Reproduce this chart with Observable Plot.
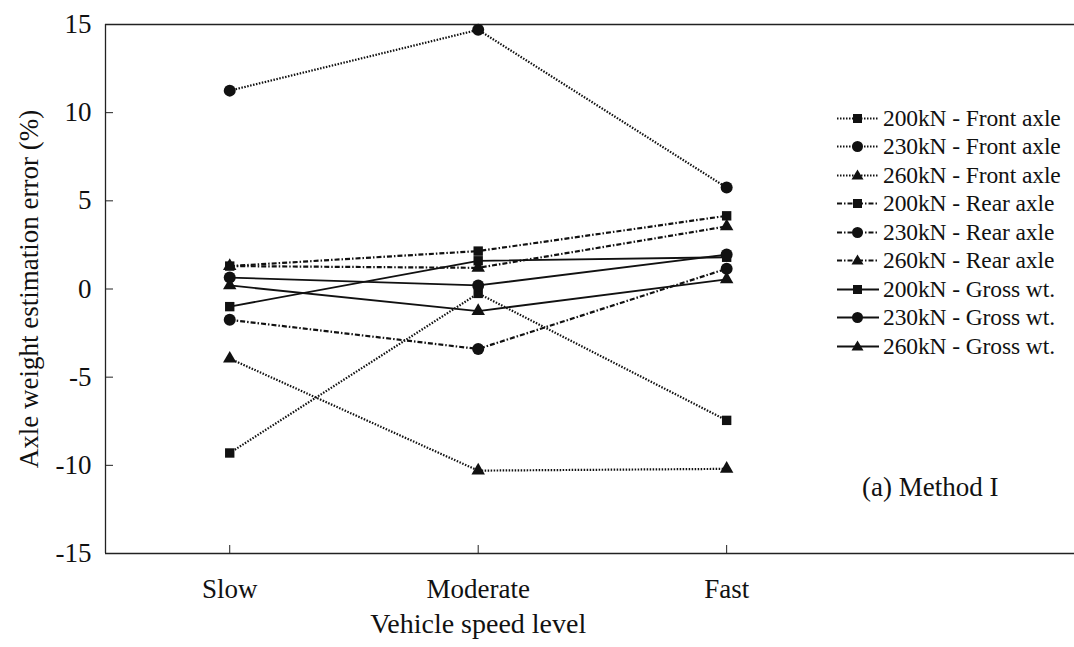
<!DOCTYPE html>
<html>
<head>
<meta charset="utf-8">
<script src="https://cdn.jsdelivr.net/npm/d3@7"></script>
<script src="https://cdn.jsdelivr.net/npm/@observablehq/plot@0.6"></script>
<style>
  html, body { margin: 0; padding: 0; background: #fff; }
  #wrap { position: relative; width: 1074px; height: 647px; font-family: "Liberation Serif", "Times New Roman", serif; }
  #legend { position: absolute; left: 836px; top: 104px; }
  .lrow { display: flex; align-items: center; height: 28.5px; }
  .lrow span { font-size: 23.5px; color: #111; margin-left: 3px; white-space: nowrap; letter-spacing: -0.1px; }
</style>
</head>
<body>
<div id="wrap"><div id="chart"></div><div id="legend"></div></div>
<script>
// ---- data ----
const speeds = ["Slow", "Moderate", "Fast"];
const yTicks = [-15, -10, -5, 0, 5, 10, 15];

const seriesNames = [
  "200kN - Front axle", "230kN - Front axle", "260kN - Front axle",
  "200kN - Rear axle",  "230kN - Rear axle",  "260kN - Rear axle",
  "200kN - Gross wt.",  "230kN - Gross wt.",  "260kN - Gross wt."
];
const front200 = [-9.3, -0.25, -7.45];
const front230 = [11.25, 14.7, 5.75];
const front260 = [-3.95, -10.3, -10.2];
const rear200  = [1.3, 2.15, 4.15];
const rear230  = [-1.75, -3.4, 1.15];
const rear260  = [1.3, 1.2, 3.55];
const gross200 = [-1.0, 1.6, 1.8];
const gross230 = [0.65, 0.2, 1.95];
const gross260 = [0.2, -1.25, 0.55];

const seriesValues = [front200, front230, front260, rear200, rear230, rear260, gross200, gross230, gross260];
const seriesSymbols = ["square", "circle", "triangle", "square", "circle", "triangle", "square", "circle", "triangle"];
const seriesDash = ["1.5,1.5", "1.5,1.5", "1.5,1.5", "5,2,1.5,2", "5,2,1.5,2", "5,2,1.5,2", null, null, null];
const symbolR = {square: 5.3, circle: 6, triangle: 5};

const rows = seriesNames.map((name, s) =>
  seriesValues[s].map((v, i) => ({series: name, s, xi: i + 1, v}))
);

const marks = [];
rows.forEach((data, s) => {
  marks.push(Plot.line(data, {
    x: "xi", y: "v", stroke: "#111",
    strokeWidth: seriesDash[s] ? 2.2 : 1.8,
    strokeLinecap: "butt",
    strokeDasharray: seriesDash[s] || undefined
  }));
});
rows.forEach((data, s) => {
  marks.push(Plot.dot(data, {
    x: "xi", y: "v", symbol: () => seriesSymbols[s], r: symbolR[seriesSymbols[s]],
    fill: "#111", stroke: "none"
  }));
});

const fontFamily = '"Liberation Serif", "Times New Roman", serif';

const chart = Plot.plot({
  width: 1074,
  height: 647,
  marginLeft: 105,
  marginRight: 0,
  marginTop: 24,
  marginBottom: 94,
  style: {fontFamily, fontSize: "28px", color: "#111", background: "transparent"},
  x: {domain: [0.5, 4.4], type: "linear"},
  y: {domain: [-15, 15]},
  symbol: {type: "identity"},
  marks: [
    Plot.ruleY([yTicks[0], yTicks[yTicks.length - 1]], {stroke: "#222", strokeWidth: 1.3}),
    Plot.ruleX([0.5], {stroke: "#222", strokeWidth: 1.3}),
    Plot.axisY(yTicks, {anchor: "left", tickSize: -8, tickPadding: 22, tickFormat: d => String(d),
      label: "Axle weight estimation error (%)",
      labelAnchor: "center", labelOffset: 87, labelArrow: "none", fontSize: 27, stroke: "#222"}),
    Plot.axisX([1, 2, 3], {anchor: "bottom", tickSize: -8, tickPadding: 33, tickFormat: d => speeds[d - 1],
      label: null, fontSize: 27, stroke: "#222"}),
    Plot.text(["Vehicle speed level"], {x: [2], frameAnchor: "bottom", dy: 79, text: d => d, fontSize: 28, fill: "#111"}),
    Plot.text(["(a) Method I"], {frameAnchor: "bottom-right", dx: -76, dy: -58, text: d => d, fontSize: 27, textAnchor: "end", fill: "#111"}),
    ...marks
  ]
});
document.getElementById("chart").appendChild(chart);

// ---- legend ----
const legend = document.getElementById("legend");
seriesNames.forEach((name, s) => {
  const row = document.createElement("div");
  row.className = "lrow";
  const sym = seriesSymbols[s];
  let shape;
  if (sym === "square") shape = '<rect x="17" y="6" width="9" height="9" fill="#111"/>';
  else if (sym === "circle") shape = '<circle cx="21.5" cy="10.5" r="5.5" fill="#111"/>';
  else shape = '<path d="M21.5,4.5 L27.5,14.5 L15.5,14.5 Z" fill="#111"/>';
  const dash = seriesDash[s] ? `stroke-dasharray="${seriesDash[s]}"` : "";
  row.innerHTML = `<svg width="44" height="21"><line x1="1" y1="10.5" x2="43" y2="10.5" stroke="#111" stroke-width="${seriesDash[s] ? 1.8 : 2}" ${dash}/>${shape}</svg><span>${name}</span>`;
  legend.appendChild(row);
});
</script>
</body>
</html>
